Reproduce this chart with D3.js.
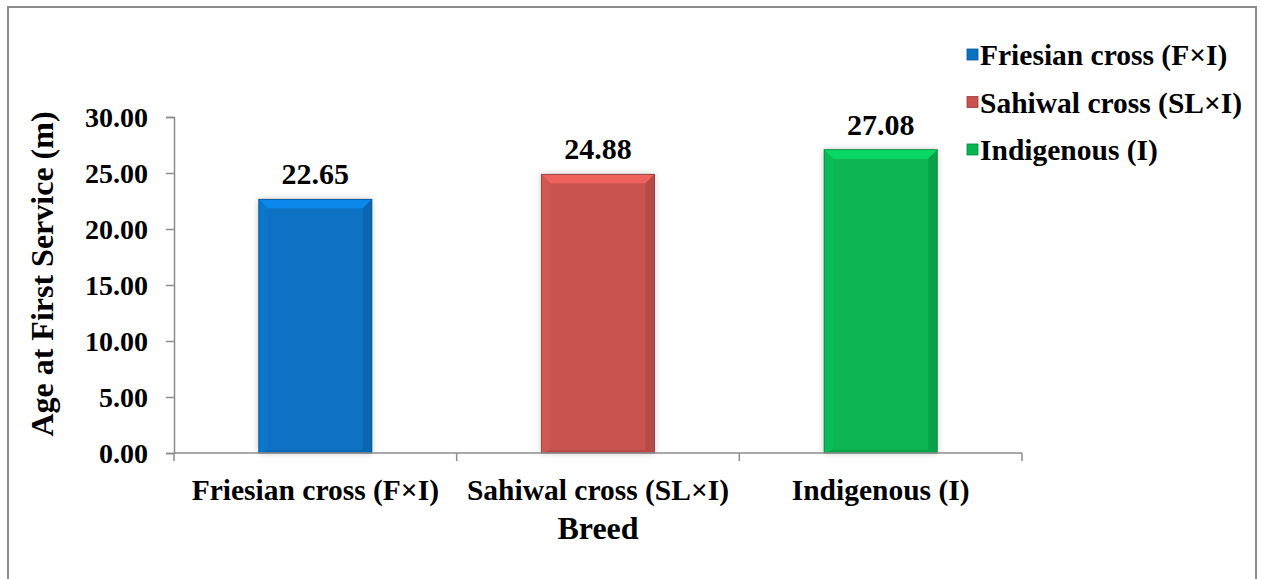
<!DOCTYPE html>
<html>
<head>
<meta charset="utf-8">
<script src="https://cdn.jsdelivr.net/npm/d3@7"></script>
<style>
  body { margin: 0; background: #fff; }
</style>
</head>
<body>
<svg id="chart" width="1262" height="579"></svg>
<script>
// data
const breeds = ["Friesian cross (F\u00d7I)", "Sahiwal cross (SL\u00d7I)", "Indigenous (I)"];
const values = [22.65, 24.88, 27.08];
const colors = ["#0a72c4", "#c9524f", "#07b553"];
const yTicks = [0, 5, 10, 15, 20, 25, 30];

const FONT = "'Liberation Serif', 'Times New Roman', Tinos, serif";
const W = 1262, H = 579;
const margin = {left: 174, right: 240, top: 117, bottom: 126};

const svg = d3.select("#chart");

// outer frame (no bottom edge visible)
svg.append("path")
    .attr("d", `M8,${H} L8,7 L1256,7 L1256,${H}`)
    .attr("fill", "none")
    .attr("stroke", "#8c8c8c")
    .attr("stroke-width", 2);

const x = d3.scaleBand()
    .domain(breeds)
    .range([margin.left, W - margin.right])
    .paddingInner(0.6)
    .paddingOuter(0.3);

const y = d3.scaleLinear()
    .domain([0, 30])
    .range([H - margin.bottom, margin.top]);

// bars with a simple bevel
const defs = svg.append("defs");
const f = defs.append("filter").attr("id", "shadow").attr("x", "-20%").attr("y", "-20%").attr("width", "140%").attr("height", "140%");
f.append("feDropShadow").attr("dx", 0).attr("dy", 0).attr("stdDeviation", 3).attr("flood-opacity", 0.25);

const bars = svg.append("g").selectAll("g")
    .data(values)
    .join("g");

bars.each(function(v, i) {
    const g = d3.select(this);
    const x0 = x(breeds[i]), bw = x.bandwidth();
    const y0 = y(v), y1 = y(0);
    const c = d3.color(colors[i]);
    const b = 9;
    g.append("rect")
        .attr("x", x0).attr("y", y0)
        .attr("width", bw).attr("height", y1 - y0)
        .attr("fill", c.formatHex())
        .attr("filter", "url(#shadow)");
    // top bevel
    g.append("path")
        .attr("d", `M${x0},${y0} L${x0 + bw},${y0} L${x0 + bw - b},${y0 + b} L${x0 + b},${y0 + b} Z`)
        .attr("fill", c.brighter(0.5).formatHex());
    // left bevel
    g.append("path")
        .attr("d", `M${x0},${y0} L${x0 + b},${y0 + b} L${x0 + b},${y1 - 3} L${x0},${y1} Z`)
        .attr("fill", c.brighter(0.12).formatHex());
    // right bevel
    g.append("path")
        .attr("d", `M${x0 + bw},${y0} L${x0 + bw},${y1} L${x0 + bw - b},${y1 - 3} L${x0 + bw - b},${y0 + b} Z`)
        .attr("fill", c.darker(0.3).formatHex());
    // bottom edge
    g.append("path")
        .attr("d", `M${x0},${y1} L${x0 + b},${y1 - 3} L${x0 + bw - b},${y1 - 3} L${x0 + bw},${y1} Z`)
        .attr("fill", c.darker(0.3).formatHex());
    g.append("rect")
        .attr("x", x0).attr("y", y0)
        .attr("width", bw).attr("height", y1 - y0)
        .attr("fill", "none")
        .attr("stroke", c.darker(1).formatHex())
        .attr("stroke-width", 0.8);
});

// value labels
svg.append("g").selectAll("text")
    .data(values)
    .join("text")
    .attr("x", (d, i) => x(breeds[i]) + x.bandwidth() / 2)
    .attr("y", d => y(d) - 15)
    .attr("text-anchor", "middle")
    .attr("font-size", 30)
    .text(d => d.toFixed(2));

// y axis
const yAxis = svg.append("g")
    .attr("transform", `translate(${margin.left},0)`)
    .call(d3.axisLeft(y).tickValues(yTicks).tickFormat(d3.format(".2f")).tickSize(8).tickPadding(18));
yAxis.selectAll("text").attr("font-size", 28).attr("dy", "0.35em");
yAxis.select(".domain").attr("stroke", "#8c8c8c").attr("stroke-width", 1.5);
yAxis.selectAll(".tick line").attr("stroke", "#8c8c8c").attr("stroke-width", 1.5);

// x axis with ticks at category boundaries
const xAxisG = svg.append("g").attr("transform", `translate(0,${y(0)})`);
xAxisG.append("line")
    .attr("x1", margin.left).attr("x2", W - margin.right)
    .attr("stroke", "#8c8c8c").attr("stroke-width", 1.5);
const step = (W - margin.right - margin.left) / breeds.length;
xAxisG.selectAll(".bt")
    .data(d3.range(breeds.length + 1))
    .join("line")
    .attr("x1", d => margin.left + d * step).attr("x2", d => margin.left + d * step)
    .attr("y1", 0).attr("y2", 8)
    .attr("stroke", "#8c8c8c").attr("stroke-width", 1.5);
xAxisG.selectAll(".cl")
    .data(breeds)
    .join("text")
    .attr("x", d => x(d) + x.bandwidth() / 2)
    .attr("y", 47)
    .attr("text-anchor", "middle")
    .attr("font-size", 29.5)
    .text(d => d);

// axis titles
svg.append("text")
    .attr("x", (margin.left + W - margin.right) / 2)
    .attr("y", 539)
    .attr("text-anchor", "middle")
    .attr("font-size", 32)
    .text("Breed");

svg.append("text")
    .attr("transform", `translate(53,${(margin.top + H - margin.bottom) / 2 - 11}) rotate(-90)`)
    .attr("text-anchor", "middle")
    .attr("font-size", 32)
    .text("Age at First Service (m)");

// legend
const legend = svg.append("g").selectAll("g")
    .data(breeds)
    .join("g")
    .attr("transform", (d, i) => `translate(967,${55 + i * 47.5})`);
legend.append("rect")
    .attr("x", 0).attr("y", -6)
    .attr("width", 11).attr("height", 11)
    .attr("fill", (d, i) => colors[i])
    .attr("stroke", (d, i) => d3.color(colors[i]).darker(0.8).formatHex())
    .attr("stroke-width", 0.8);
legend.append("text")
    .attr("x", 13)
    .attr("dy", "0.35em")
    .attr("font-size", 29.5)
    .text(d => d);

svg.selectAll("text")
    .attr("font-family", FONT)
    .attr("font-weight", "bold")
    .attr("fill", "#000");
</script>
</body>
</html>
